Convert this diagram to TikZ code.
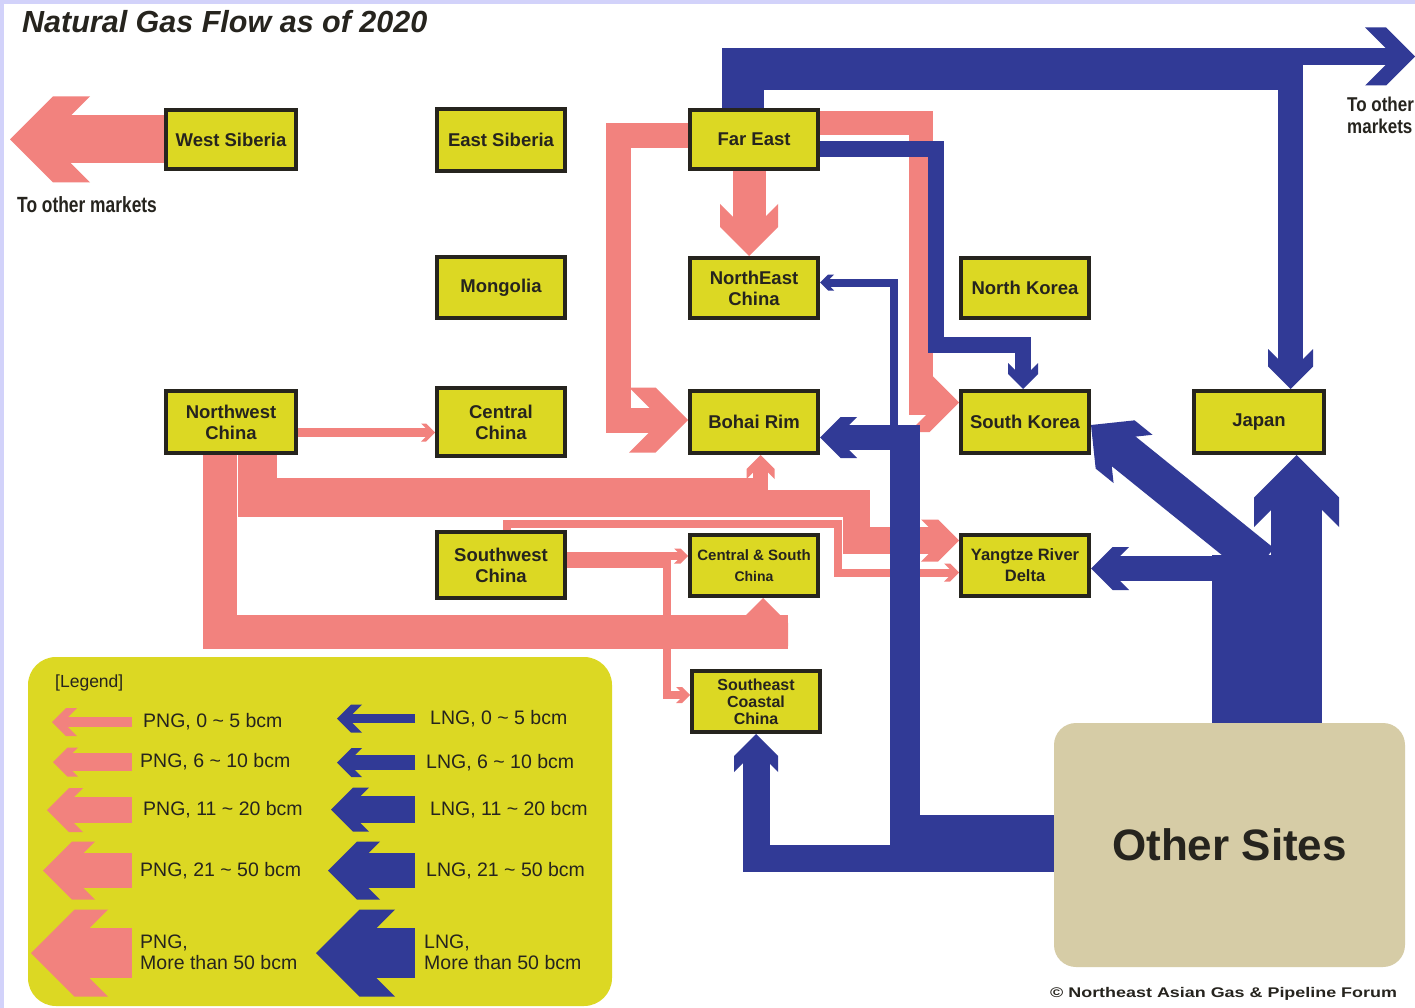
\documentclass[tikz,border=0pt]{standalone}
\usepackage{fontspec}
\usepackage{graphicx}
\setmainfont{Liberation Sans}
\usetikzlibrary{arrows.meta,calc}
\definecolor{pinkc}{RGB}{242,130,126}
\definecolor{bluec}{RGB}{49,58,150}
\definecolor{boxy}{RGB}{220,216,35}
\definecolor{tanc}{RGB}{214,204,166}
\definecolor{lav}{RGB}{210,210,250}
\definecolor{inkc}{RGB}{38,36,30}
\newdimen\blkc
\pgfdeclarearrow{
  name = Blk,
  parameters = {\the\pgfarrowlength,\the\pgfarrowwidth,\the\pgfarrowlinewidth},
  setup code = {%
    \blkc=\pgfarrowlength
    \advance\blkc by -0.5\pgfarrowwidth
    \advance\blkc by 0.5\pgfarrowlinewidth
    \advance\blkc by -1pt
    \pgfarrowssettipend{0pt}%
    \pgfarrowssetlineend{-\the\blkc}%
    \pgfarrowssetbackend{-\the\pgfarrowlength}%
    \pgfarrowssavethe\pgfarrowlength
    \pgfarrowssavethe\pgfarrowwidth
    \pgfarrowssavethe\pgfarrowlinewidth
  },
  drawing code = {%
    \blkc=\pgfarrowlength
    \advance\blkc by -0.5\pgfarrowwidth
    \advance\blkc by 0.5\pgfarrowlinewidth
    \pgfpathmoveto{\pgfqpoint{0pt}{0pt}}%
    \pgfpathlineto{\pgfqpoint{-0.5\pgfarrowwidth}{0.5\pgfarrowwidth}}%
    \pgfpathlineto{\pgfqpoint{-\pgfarrowlength}{0.5\pgfarrowwidth}}%
    \pgfpathlineto{\pgfqpoint{-\blkc}{0.5\pgfarrowlinewidth}}%
    \pgfpathlineto{\pgfqpoint{-\blkc}{-0.5\pgfarrowlinewidth}}%
    \pgfpathlineto{\pgfqpoint{-\pgfarrowlength}{-0.5\pgfarrowwidth}}%
    \pgfpathlineto{\pgfqpoint{-0.5\pgfarrowwidth}{-0.5\pgfarrowwidth}}%
    \pgfpathclose
    \pgfusepathqfill
  },
  defaults = {length = 20pt, width = 30pt}
}
\pgfdeclarelayer{back}
\pgfdeclarelayer{flows}
\pgfsetlayers{back,flows,main}
\newcommand\tld{\char"7E\relax}
\tikzset{
  box/.style={draw=inkc, line width=4pt, fill=boxy, minimum width=128pt, minimum height=60pt,
    inner sep=0pt, align=center, text=inkc, font=\bfseries\fontsize{18.5}{21}\selectfont},
  png/.style={draw=pinkc},
  lng/.style={draw=bluec},
  lgtext/.style={anchor=west, text=inkc, font=\fontsize{19.5}{21}\selectfont, inner sep=0pt, align=left},
  mkt/.style={text=inkc, inner sep=0pt, align=left}
}
\begin{document}
\begin{tikzpicture}[x=1pt,y=-1pt]
\useasboundingbox (0,0) rectangle (1415,1008);
\begin{pgfonlayer}{back}
\fill[lav] (0,0) rectangle (1415,1008);
\fill[white] (4,4) rectangle (1415,1008);
\node[fill=boxy, rounded corners=28pt, minimum width=584pt, minimum height=349pt, inner sep=0pt] (lgbox) at (320,831.5) {};
\end{pgfonlayer}

% ---------- nodes ----------
\node[anchor=base west, inner sep=0pt, text=inkc, font=\bfseries\itshape\fontsize{30.5}{30}\selectfont] (title) at (22,33) {Natural Gas Flow as of 2020};

\node[box, minimum width=130pt, minimum height=59pt] (ws) at (231,139.5) {West Siberia};
\node[box, minimum height=62pt] (es) at (501,140) {East Siberia};
\node[box, minimum height=59pt] (fe) at (754,139.5) {Far East};
\node[box] (ne) at (754,288) {NorthEast\\China};
\node[box, minimum height=61pt] (mn) at (501,287.5) {Mongolia};
\node[box] (nk) at (1025,288) {North Korea};
\node[box, minimum width=130pt, minimum height=62pt] (nw) at (231,422) {Northwest\\China};
\node[box, minimum height=68pt] (cc) at (501,422) {Central\\China};
\node[box, minimum height=62pt] (br) at (754,422) {Bohai Rim};
\node[box, minimum height=62pt] (sk) at (1025,422) {South Korea};
\node[box, minimum width=130pt, minimum height=62pt] (jp) at (1259,422) {Japan};
\node[box, minimum height=66pt] (sw) at (501,565) {Southwest\\China};
\node[box, minimum height=61pt] (cs) at (754,565.5) {{\fontsize{15}{21}\selectfont Central \& South}\\{\fontsize{14}{17}\selectfont China}};
\node[box, minimum height=61pt, font=\bfseries\fontsize{16.5}{21}\selectfont] (yr) at (1025,565.5) {Yangtze River\\Delta};
\node[box, minimum height=61pt, font=\bfseries\fontsize{16}{17}\selectfont] (se) at (756,701.5) {Southeast\\Coastal\\China};

\node[fill=tanc, rounded corners=22pt, minimum width=351pt, minimum height=244pt, inner sep=0pt,
  text=inkc, font=\bfseries\fontsize{44}{50}\selectfont] (os) at (1229.5,845) {Other Sites};

\node[mkt, anchor=west, font=\bfseries\fontsize{22}{22}\selectfont] (tomL) at (17,205) {\scalebox{0.79}[1]{To other markets}};
\node[mkt, anchor=north west, font=\bfseries\fontsize{20}{22}\selectfont] (tomR) at (1347,97) {\scalebox{0.85}[1]{To other}\\\scalebox{0.85}[1]{markets}};
\node[mkt, anchor=west, font=\bfseries\fontsize{14}{14}\selectfont] (copy) at (1050,994) {\scalebox{1.28}[1]{\textcopyright{} Northeast Asian Gas \& Pipeline Forum}};

% legend texts
\node[lgtext, font=\fontsize{17.5}{20}\selectfont] (lgh) at (55,683) {[Legend]};
\node[lgtext] (lp1) at (143,722) {PNG, 0 \tld{} 5 bcm};
\node[lgtext] (lp2) at (140,762) {PNG, 6 \tld{} 10 bcm};
\node[lgtext] (lp3) at (143,810) {PNG, 11 \tld{} 20 bcm};
\node[lgtext] (lp4) at (140,871) {PNG, 21 \tld{} 50 bcm};
\node[lgtext] (lp5) at (140,952.5) {PNG,\\More than 50 bcm};
\node[lgtext] (ll1) at (430,718.5) {LNG, 0 \tld{} 5 bcm};
\node[lgtext] (ll2) at (426,762.5) {LNG, 6 \tld{} 10 bcm};
\node[lgtext] (ll3) at (430,810) {LNG, 11 \tld{} 20 bcm};
\node[lgtext] (ll4) at (426,871) {LNG, 21 \tld{} 50 bcm};
\node[lgtext] (ll5) at (424,952.5) {LNG,\\More than 50 bcm};

% ---------- flows ----------
\begin{pgfonlayer}{flows}
% legend arrows
\foreach \ly/\lw/\lt/\lL/\lW in {722/10/52/25/28, 762/18/53/25/29, 810/26/47/36/44, 870.5/35/43/52/58, 953/50/31/77/87}
  \draw[png, line width=\lw pt, -{Blk[length=\lL pt,width=\lW pt]}] (132,\ly) -- (\lt,\ly);
\foreach \ly/\lw/\lt/\lL/\lW in {718.5/9/337/25/28, 762.5/15/337/25/29, 809.5/27/331/38/44, 870.5/35/328/52/58, 953/50/316/79/87}
  \draw[lng, line width=\lw pt, -{Blk[length=\lL pt,width=\lW pt]}] (415,\ly) -- (\lt,\ly);

% PNG flows
\coordinate (wsT) at (10,139.5);
\draw[png, line width=48pt, -{Blk[length=80pt,width=86pt]}] (ws.west) -- (wsT);
\draw[png, line width=33pt, -{Blk[length=52pt,width=58pt]}] ([xshift=-5pt]fe.south) -- ([xshift=-5pt]ne.north);
\coordinate (p3a) at (618,136); \coordinate (p3b) at (618,420);
\draw[png, line width=25pt, -{Blk[length=59pt,width=65pt]}] ([yshift=3.5pt]fe.west) -- (p3a) -- (p3b) -- ([yshift=2pt]br.west);
\coordinate (p4a) at (920.5,123.5); \coordinate (p4b) at (920.5,402.5);
\draw[png, line width=24pt, -{Blk[length=50pt,width=59pt]}] ([yshift=16pt]fe.east) -- (p4a) -- (p4b) -- ([yshift=19.5pt]sk.west);

\draw[png, line width=9pt, -{Blk[length=14pt,width=18pt]}] ([yshift=-10.5pt]nw.east) -- ([yshift=-10.5pt]cc.west);
\coordinate (nu1) at (768,497.5);
\draw[png, line width=39pt] ([xshift=26pt]nw.south) |- (nu1);
\coordinate (nb1) at (760.5,490);
\draw[png, line width=15pt, -{Blk[length=24pt,width=28pt]}] (nb1) -- ([xshift=6.5pt]br.south);
\coordinate (ny1) at (758,503.5); \coordinate (ny2) at (856.5,540.5);
\draw[png, line width=27pt, -{Blk[length=38pt,width=42pt]}] (ny1) -| (ny2) -- ([yshift=25pt]yr.west);
\coordinate (nt1) at (837.5,524);
\draw[png, line width=8pt, -{Blk[length=15pt,width=18pt]}] ([xshift=6pt]sw.north) |- (nt1) |- ([yshift=-7pt]yr.west);
\coordinate (nl1) at (788,631.5);
\draw[png, line width=34pt] ([xshift=-11.5pt]nw.south) |- (nl1);
\coordinate (cs1) at (763,648);
\draw[png, line width=33pt, -{Blk[length=48pt,width=50pt]}] (cs1) -- ([xshift=9pt]cs.south);
\coordinate (sw1) at ([yshift=9pt]sw.east);
\draw[png, line width=8pt, -{Blk[length=14pt,width=15pt]}] (sw1) -- (sw1 -| cs.west);
\coordinate (sw2) at (666.5,695);
\draw[png, line width=8pt, -{Blk[length=14pt,width=16pt]}] ([yshift=1pt]sw.east) -| (sw2) -- ([yshift=6.5pt]se.west);

% LNG flows
\coordinate (b1) at (936,345);
\draw[lng, line width=16pt, -{Blk[length=26pt,width=30pt]}] ([yshift=-10pt]fe.east) -| (b1) -| ([xshift=-2pt]sk.north);
\coordinate (b2) at (1303,69);
\draw[lng, line width=42pt] ([xshift=-11.5pt]fe.north) |- (b2);
\coordinate (b3) at (1290.5,69);
\draw[lng, line width=25pt, -{Blk[length=40pt,width=45pt]}] (b3) -- ([xshift=31.5pt]jp.north);
\coordinate (b4) at (1290,56.5); \coordinate (omR) at (1415,56.5);
\draw[lng, line width=17pt, -{Blk[length=50pt,width=58pt]}] (b4) -- (omR);

\coordinate (b5) at (905,425);
\draw[lng, line width=30pt] ([yshift=15pt]os.west) -| (b5);
\draw[lng, line width=27pt, -{Blk[length=38pt,width=44pt]}] ([yshift=-13.5pt]os.west) -| (se.south);
\coordinate (b6) at (905,437.5);
\draw[lng, line width=25pt, -{Blk[length=37pt,width=41pt]}] (b6) -- ([yshift=-15.5pt]br.east);
\coordinate (b7) at (894,430);
\draw[lng, line width=8pt, -{Blk[length=14pt,width=16pt]}] (b7) |- ([yshift=5.5pt]ne.east);

\coordinate (b8) at (1267,555);
\draw[lng, line width=110pt] ([xshift=37.5pt]os.north) -- (b8);
\coordinate (b9) at (1296.5,565);
\draw[lng, line width=51pt, -{Blk[length=72pt,width=85pt]}] (b9) -- ([xshift=37.5pt]jp.south);
\coordinate (b10) at (1230,568.5);
\draw[lng, line width=25pt, -{Blk[length=38pt,width=43pt]}] (b10) -- ([yshift=-3pt]yr.east);
\coordinate (b11) at (1262,563);
\draw[lng, line width=38pt, -{Blk[length=54pt,width=62pt]}] (b11) -- ([yshift=-3pt]sk.east);
\end{pgfonlayer}
\end{tikzpicture}
\end{document}
